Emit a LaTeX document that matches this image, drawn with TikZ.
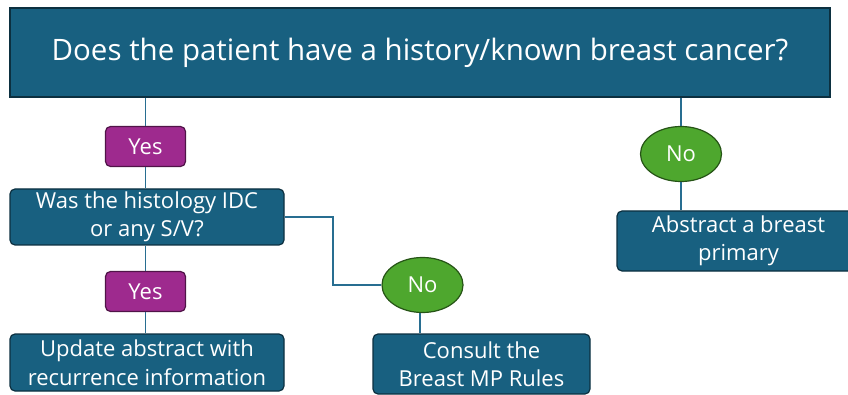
\documentclass[tikz,border=0pt]{standalone}
\usepackage{fontspec}
\setmainfont{Open Sans}
\usetikzlibrary{shapes.geometric}
\definecolor{boxblue}{RGB}{24,96,128}
\definecolor{boxedge}{RGB}{12,48,64}
\definecolor{yespurple}{RGB}{158,42,142}
\definecolor{yesedge}{RGB}{80,20,72}
\definecolor{nogreen}{RGB}{78,167,46}
\definecolor{noedge}{RGB}{38,84,22}
\definecolor{linkblue}{RGB}{40,110,145}
\tikzset{
  x=1pt,y=-1pt,
  bluebox/.style={draw=boxedge,line width=1.2pt,fill=boxblue,text=white,rounded corners=5pt,inner sep=0pt,align=center,font=\fontsize{22}{28.5}\selectfont},
  yesbox/.style={draw=yesedge,line width=1.2pt,fill=yespurple,text=white,rounded corners=5pt,minimum width=80pt,minimum height=40pt,inner sep=0pt,font=\fontsize{22}{28}\selectfont},
  noell/.style={ellipse,draw=noedge,line width=1.2pt,fill=nogreen,text=white,minimum width=81pt,minimum height=55pt,inner sep=0pt,font=\fontsize{22}{28}\selectfont},
  link/.style={draw=linkblue,line width=1.5pt},
}
\begin{document}
\begin{tikzpicture}
\useasboundingbox (0,0) rectangle (848,395);
\begin{scope}
\clip (0,0) rectangle (848,395);
\node[bluebox,rounded corners=0pt,minimum width=820pt,minimum height=89pt,font=\fontsize{29.5}{34}\selectfont] (q) at (420,52.5) {Does the patient have a history/known breast cancer?};
\node[yesbox] (y1) at (145.5,146.5) {Yes};
\node[bluebox,minimum width=274pt,minimum height=56pt] (was) at (147,217) {Was the histology IDC\\or any S/V?};
\node[yesbox] (y2) at (145.5,291.5) {Yes};
\node[bluebox,minimum width=274pt,minimum height=57pt] (upd) at (147,362.5) {Update abstract with\\recurrence information};
\node[noell] (n1) at (422.5,285) {No};
\node[bluebox,minimum width=217pt,minimum height=60pt] (cons) at (481.5,364) {Consult the\\Breast MP Rules};
\node[noell] (n2) at (681,154) {No};
\node[bluebox,minimum width=243pt,minimum height=60pt] (abs) at (738.5,241) {Abstract a breast\\primary};
\coordinate (c1) at (333,217);
\coordinate (c2) at (333,285);
\begin{scope}[on background layer/.style={}]
\end{scope}
\end{scope}
\draw[link] (q.south -| y1) -- (y1.north);
\draw[link] (y1.south) -- (was.north -| y1);
\draw[link] (was.south -| y2) -- (y2.north);
\draw[link] (y2.south) -- (upd.north -| y2);
\draw[link] (was.east) -- (c1) -- (c2) -- (n1.west);
\draw[link] (n1.south -| 420,0) -- (cons.north -| 420,0);
\draw[link] (q.south -| n2) -- (n2.north);
\draw[link] (n2.south) -- (abs.north -| n2);
\end{tikzpicture}
\end{document}
